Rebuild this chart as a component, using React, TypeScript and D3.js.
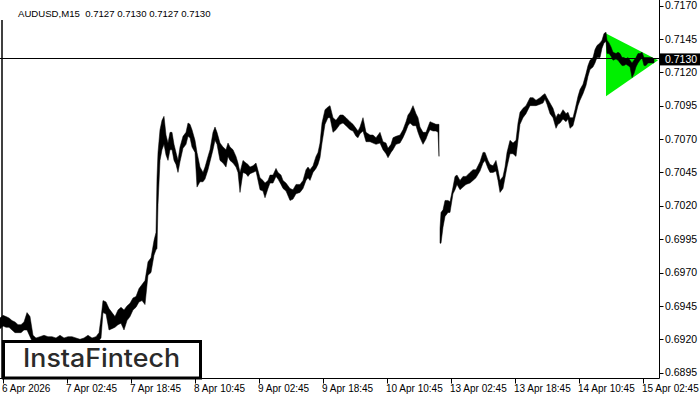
import { useEffect } from 'react';
import * as d3 from 'd3';

const W = 700;
const H = 400;

// price axis labels
const priceTicks = [0.7170, 0.7145, 0.7120, 0.7095, 0.7070, 0.7045, 0.7020, 0.6995, 0.6970, 0.6945, 0.6920, 0.6895];

// time axis (M15 bar index from the left edge)
const timeTickBars = [3, 67, 131, 195, 259, 323, 387, 451, 515, 579, 643];
const timeLabels = ['6 Apr 2026', '7 Apr 02:45', '7 Apr 18:45', '8 Apr 10:45', '9 Apr 02:45', '9 Apr 18:45', '10 Apr 10:45', '13 Apr 02:45', '13 Apr 18:45', '14 Apr 10:45', '15 Apr 02:45'];

// week 1 (6 Apr - 10 Apr): bar index, high, low
const week1Bars = [0, 3, 6, 9, 12, 15, 18, 21, 24, 27, 30, 33, 36, 40, 44, 48, 52, 56, 60, 64, 68, 72, 76, 80, 84, 88, 92, 96, 99, 101, 103, 106, 109, 112, 115, 118, 121, 124, 127, 130, 133, 136, 139, 142, 145, 148, 151, 154, 156, 157, 158, 160, 162, 164, 166, 168, 170, 172, 174, 176, 178, 180, 183, 186, 188, 190, 192, 195, 197, 200, 203, 205, 208, 210, 213, 215, 217, 220, 223, 226, 228, 230, 233, 236, 238, 240, 243, 246, 248, 250, 253, 256, 260, 263, 265, 268, 270, 273, 276, 278, 281, 283, 286, 290, 293, 296, 300, 303, 306, 308, 310, 313, 316, 318, 320, 322, 325, 328, 330, 333, 336, 340, 343, 346, 350, 353, 356, 358, 360, 363, 366, 370, 373, 376, 380, 383, 386, 388, 391, 393, 396, 400, 403, 406, 408, 410, 413, 416, 418, 420, 423, 426, 428, 430, 433, 436, 438, 439];
const week1High = [0.6936, 0.6938, 0.6937, 0.6936, 0.6934, 0.6933, 0.6931, 0.6931, 0.6933, 0.6940, 0.6937, 0.6923, 0.6921, 0.6922, 0.6923, 0.6922, 0.6922, 0.6921, 0.6923, 0.6921, 0.6922, 0.6922, 0.6921, 0.6920, 0.6921, 0.6923, 0.6921, 0.6922, 0.6925, 0.6936, 0.6949, 0.6948, 0.6943, 0.6940, 0.6937, 0.6942, 0.6944, 0.6942, 0.6945, 0.6947, 0.6951, 0.6952, 0.6958, 0.6961, 0.6964, 0.6978, 0.6981, 0.6994, 0.7000, 0.7041, 0.7060, 0.7077, 0.7084, 0.7087, 0.7073, 0.7067, 0.7075, 0.7075, 0.7066, 0.7060, 0.7054, 0.7064, 0.7072, 0.7075, 0.7082, 0.7081, 0.7077, 0.7069, 0.7060, 0.7049, 0.7045, 0.7049, 0.7057, 0.7062, 0.7075, 0.7079, 0.7075, 0.7067, 0.7064, 0.7062, 0.7067, 0.7064, 0.7062, 0.7057, 0.7052, 0.7045, 0.7054, 0.7052, 0.7051, 0.7049, 0.7050, 0.7052, 0.7041, 0.7039, 0.7037, 0.7039, 0.7043, 0.7043, 0.7048, 0.7045, 0.7043, 0.7039, 0.7037, 0.7033, 0.7032, 0.7036, 0.7036, 0.7039, 0.7047, 0.7049, 0.7047, 0.7050, 0.7057, 0.7060, 0.7067, 0.7082, 0.7092, 0.7094, 0.7095, 0.7086, 0.7084, 0.7088, 0.7088, 0.7086, 0.7083, 0.7081, 0.7078, 0.7076, 0.7079, 0.7086, 0.7075, 0.7073, 0.7073, 0.7071, 0.7075, 0.7068, 0.7067, 0.7063, 0.7066, 0.7071, 0.7072, 0.7073, 0.7077, 0.7083, 0.7088, 0.7090, 0.7095, 0.7089, 0.7086, 0.7079, 0.7075, 0.7075, 0.7079, 0.7083, 0.7082, 0.7081, 0.7081, 0.7081];
const week1Low = [0.6928, 0.6930, 0.6929, 0.6929, 0.6927, 0.6925, 0.6925, 0.6925, 0.6927, 0.6927, 0.6922, 0.6917, 0.6915, 0.6916, 0.6918, 0.6916, 0.6917, 0.6916, 0.6917, 0.6916, 0.6916, 0.6917, 0.6916, 0.6915, 0.6916, 0.6917, 0.6916, 0.6916, 0.6919, 0.6921, 0.6940, 0.6939, 0.6927, 0.6928, 0.6929, 0.6931, 0.6932, 0.6927, 0.6934, 0.6937, 0.6942, 0.6944, 0.6948, 0.6949, 0.6946, 0.6968, 0.6970, 0.6983, 0.6987, 0.6988, 0.7021, 0.7054, 0.7062, 0.7066, 0.7058, 0.7054, 0.7062, 0.7062, 0.7054, 0.7051, 0.7045, 0.7053, 0.7063, 0.7066, 0.7072, 0.7071, 0.7064, 0.7060, 0.7034, 0.7038, 0.7038, 0.7040, 0.7047, 0.7053, 0.7062, 0.7069, 0.7066, 0.7054, 0.7052, 0.7049, 0.7057, 0.7054, 0.7052, 0.7049, 0.7045, 0.7030, 0.7045, 0.7044, 0.7042, 0.7044, 0.7045, 0.7046, 0.7032, 0.7031, 0.7026, 0.7033, 0.7037, 0.7037, 0.7042, 0.7040, 0.7036, 0.7033, 0.7031, 0.7024, 0.7025, 0.7029, 0.7030, 0.7033, 0.7039, 0.7041, 0.7039, 0.7045, 0.7048, 0.7051, 0.7056, 0.7067, 0.7081, 0.7086, 0.7086, 0.7075, 0.7077, 0.7081, 0.7082, 0.7080, 0.7077, 0.7076, 0.7072, 0.7071, 0.7074, 0.7076, 0.7068, 0.7068, 0.7067, 0.7066, 0.7067, 0.7062, 0.7059, 0.7056, 0.7060, 0.7062, 0.7066, 0.7067, 0.7071, 0.7076, 0.7080, 0.7082, 0.7080, 0.7080, 0.7075, 0.7071, 0.7066, 0.7070, 0.7074, 0.7077, 0.7076, 0.7076, 0.7075, 0.7057];

// week 2 (13 Apr - 15 Apr)
const week2Bars = [440, 441, 443, 445, 448, 450, 453, 455, 457, 460, 463, 466, 470, 473, 476, 480, 483, 485, 488, 490, 493, 496, 498, 500, 503, 505, 507, 510, 513, 516, 518, 520, 523, 526, 530, 533, 536, 540, 543, 545, 547, 550, 553, 556, 558, 560, 563, 566, 568, 570, 573, 575, 578, 580, 583, 586, 588, 590, 593, 595, 597, 600, 602, 604, 606, 607, 609, 611, 613, 616, 618, 620, 622, 624, 626, 628, 630, 632, 634, 636, 638, 640, 642, 644, 646, 648, 650, 652, 654];
const week2High = [0.7003, 0.7015, 0.7017, 0.7024, 0.7024, 0.7023, 0.7034, 0.7042, 0.7043, 0.7039, 0.7042, 0.7042, 0.7045, 0.7047, 0.7047, 0.7053, 0.7060, 0.7060, 0.7054, 0.7051, 0.7050, 0.7054, 0.7047, 0.7039, 0.7042, 0.7049, 0.7060, 0.7069, 0.7067, 0.7069, 0.7082, 0.7090, 0.7093, 0.7095, 0.7101, 0.7101, 0.7099, 0.7101, 0.7103, 0.7104, 0.7101, 0.7097, 0.7093, 0.7086, 0.7089, 0.7088, 0.7092, 0.7089, 0.7090, 0.7086, 0.7086, 0.7092, 0.7102, 0.7107, 0.7111, 0.7119, 0.7125, 0.7129, 0.7131, 0.7137, 0.7140, 0.7142, 0.7144, 0.7149, 0.7150, 0.7144, 0.7142, 0.7139, 0.7135, 0.7134, 0.7135, 0.7134, 0.7131, 0.7131, 0.7130, 0.7131, 0.7129, 0.7127, 0.7129, 0.7131, 0.7134, 0.7134, 0.7135, 0.7131, 0.7131, 0.7131, 0.7131, 0.7131, 0.7130];
const week2Low = [0.6992, 0.6992, 0.7004, 0.7012, 0.7015, 0.7015, 0.7029, 0.7032, 0.7036, 0.7032, 0.7034, 0.7036, 0.7037, 0.7039, 0.7041, 0.7046, 0.7052, 0.7054, 0.7048, 0.7045, 0.7045, 0.7046, 0.7039, 0.7030, 0.7033, 0.7041, 0.7049, 0.7059, 0.7059, 0.7057, 0.7069, 0.7081, 0.7086, 0.7089, 0.7095, 0.7095, 0.7095, 0.7096, 0.7097, 0.7100, 0.7096, 0.7089, 0.7086, 0.7078, 0.7081, 0.7082, 0.7085, 0.7083, 0.7085, 0.7078, 0.7080, 0.7086, 0.7095, 0.7099, 0.7104, 0.7110, 0.7117, 0.7122, 0.7124, 0.7127, 0.7131, 0.7131, 0.7138, 0.7142, 0.7143, 0.7134, 0.7134, 0.7132, 0.7129, 0.7130, 0.7129, 0.7127, 0.7125, 0.7125, 0.7126, 0.7125, 0.7124, 0.7116, 0.7119, 0.7124, 0.7127, 0.7129, 0.7131, 0.7125, 0.7125, 0.7127, 0.7127, 0.7127, 0.7127];

// pennant pattern (bullish) vertices
const triBars = [606, 606, 658];
const triPrices = [0.7149, 0.7102, 0.7129];

const lastPrice = 0.7130;
const title = 'AUDUSD,M15  0.7127 0.7130 0.7127 0.7130';

const font = "Tahoma, 'Liberation Sans', Arial, sans-serif";

export default function App() {
  useEffect(() => {
    document.body.style.margin = '0';
  }, []);

  const axisX = 659.5;
  const axisY = 378.5;

  const x = d3.scaleLinear().domain([0, 659]).range([0, 659]);
  const y = d3.scaleLinear().domain([0.6895, 0.7170]).range([372.7, 5.5]);

  type Bar = { i: number; h: number; l: number };
  const week1: Bar[] = week1Bars.map((b, k) => ({ i: b, h: week1High[k], l: week1Low[k] }));
  const week2: Bar[] = week2Bars.map((b, k) => ({ i: b, h: week2High[k], l: week2Low[k] }));

  const band = d3
    .area<Bar>()
    .x((d) => x(d.i))
    .y0((d) => y(d.l))
    .y1((d) => y(d.h));

  const tri = triBars.map((b, k) => [x(b), y(triPrices[k])] as [number, number]);

  return (
    <svg width={W} height={H} style={{ display: 'block', background: '#fff' }}>
      {/* pattern */}
      <polygon points={tri.map((p) => p.join(',')).join(' ')} fill="#00f000" />

      {/* current price line */}
      <line x1={0} x2={axisX} y1={Math.round(y(lastPrice)) - 0.5} y2={Math.round(y(lastPrice)) - 0.5} stroke="#000" strokeWidth={1} />

      {/* price bars */}
      {[week1, week2].map((wk, k) => (
        <path key={k} d={band(wk) || ''} fill="#000" stroke="#000" strokeWidth={0.5} strokeLinejoin="round" />
      ))}

      {/* frame */}
      <line x1={2} x2={2} y1={20} y2={axisY} stroke="#000" strokeWidth={1.5} />
      <line x1={axisX} x2={axisX} y1={0} y2={axisY} stroke="#000" />
      <line x1={0} x2={axisX} y1={axisY} y2={axisY} stroke="#000" />

      {/* price axis */}
      {priceTicks.map((p) => (
        <g key={p}>
          <line x1={axisX} x2={axisX + 4} y1={Math.round(y(p)) + 0.5} y2={Math.round(y(p)) + 0.5} stroke="#000" />
          <text x={665} y={y(p)} dy="0.35em" fontFamily={font} fontSize={10.5} fill="#000">
            {p.toFixed(4)}
          </text>
        </g>
      ))}
      <rect x={660} y={y(lastPrice) - 5.5} width={40} height={12} fill="#000" />
      <text x={665} y={y(lastPrice) + 0.5} dy="0.35em" fontFamily={font} fontSize={10.5} fill="#fff">
        {lastPrice.toFixed(4)}
      </text>

      {/* time axis */}
      {timeTickBars.map((b, k) => (
        <g key={b}>
          <line x1={Math.round(x(b)) + 0.5} x2={Math.round(x(b)) + 0.5} y1={axisY} y2={axisY + 5} stroke="#000" />
          <text x={x(b) - 1} y={392} fontFamily={font} fontSize={10} fill="#000">
            {timeLabels[k]}
          </text>
        </g>
      ))}

      {/* title */}
      <text x={18} y={17} fontFamily={font} fontSize={9.6} fill="#000" style={{ whiteSpace: 'pre' }}>
        {title}
      </text>

      {/* logo */}
      <rect x={3.5} y={341.5} width={197} height={36.5} fill="#fff" stroke="#000" strokeWidth={3} />
      <text x={23} y={367} fontFamily="Inter, 'Open Sans', sans-serif" fontWeight={500} fontSize={25} fill="#2a2a2a" textLength={157} lengthAdjust="spacingAndGlyphs">
        InstaFintech
      </text>
    </svg>
  );
}
